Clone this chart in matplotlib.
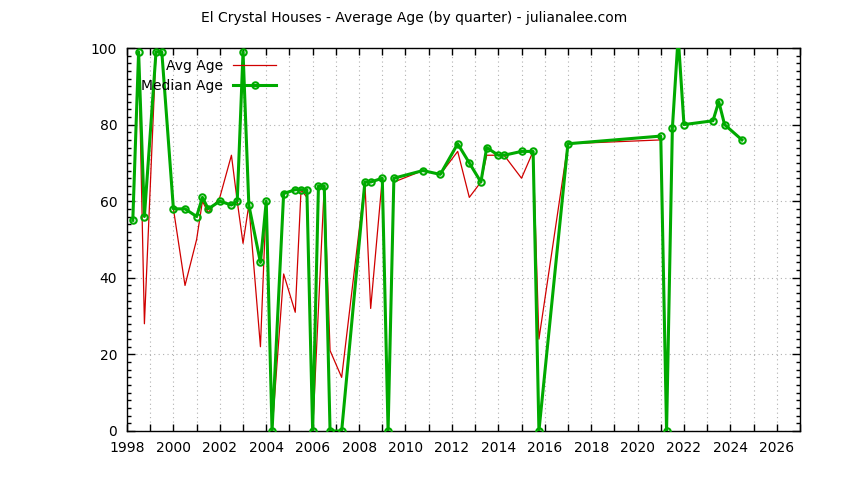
import matplotlib
matplotlib.use("Agg")
import matplotlib.pyplot as plt
from matplotlib.ticker import MultipleLocator, FuncFormatter

plt.rcParams['font.family'] = ['DejaVu Sans']

title = "El Crystal Houses - Average Age (by quarter) - julianalee.com"

quarters = [1998.25, 1998.5, 1998.75, 1999.25, 1999.5, 2000.0, 2000.5, 2001.0,
            2001.25, 2001.5, 2002.0, 2002.5, 2002.75, 2003.0, 2003.25, 2003.75,
            2004.0, 2004.25, 2004.75, 2005.25, 2005.5, 2005.75, 2006.0, 2006.25,
            2006.5, 2006.75, 2007.25, 2008.25, 2008.5, 2009.0, 2009.25, 2009.5,
            2010.75, 2011.5, 2012.25, 2012.75, 2013.25, 2013.5, 2014.0, 2014.25,
            2015.0, 2015.5, 2015.75, 2017.0, 2021.0, 2021.25, 2021.5, 2021.75,
            2022.0, 2023.25, 2023.5, 2023.75, 2024.5]

avg_age = [55, 99, 28, 99, 99, 58, 38, 50,
           60, 57, 61, 72, 60, 49, 59, 22,
           60, 0, 41, 31, 63, 61, 0, 32,
           64, 21, 14, 65, 32, 66, 0, 65,
           68, 67, 73, 61, 65, 72, 72, 72,
           66, 73, 24, 75, 76, 0, 79, 103,
           80, 81, 86, 80, 76]

median_age = [55, 99, 56, 99, 99, 58, 58, 56,
              61, 58, 60, 59, 60, 99, 59, 44,
              60, 0, 62, 63, 63, 63, 0, 64,
              64, 0, 0, 65, 65, 66, 0, 66,
              68, 67, 75, 70, 65, 74, 72, 72,
              73, 73, 0, 75, 77, 0, 79, 103,
              80, 81, 86, 80, 76]

fig = plt.figure(figsize=(8.44, 4.80), dpi=100)
ax = fig.add_axes([127/844, 1-431/480, (800-127)/844, (431-48)/480])

red = '#d00000'
green = '#00aa00'

ax.plot(quarters, avg_age, color=red, lw=0.9, label='Avg Age', zorder=3)
ax.plot(quarters, median_age, color=green, lw=2.2, marker='o', ms=4.6,
        mfc='none', mec=green, mew=1.5, label='Median Age', zorder=4)

ax.set_xlim(1998, 2027)
ax.set_ylim(0, 100)

ax.xaxis.set_major_locator(MultipleLocator(1))
ax.xaxis.set_major_formatter(FuncFormatter(lambda v, p: f"{int(round(v))}" if int(round(v)) % 2 == 0 else ""))
ax.yaxis.set_major_locator(MultipleLocator(20))
ax.yaxis.set_minor_locator(MultipleLocator(2))

ax.tick_params(axis='x', which='major', direction='in', length=5, width=1,
               top=True, bottom=True, labelsize=10, pad=7)
ax.tick_params(axis='y', which='major', direction='in', length=6, width=1,
               left=True, right=True, labelsize=10, pad=7)
ax.tick_params(axis='y', which='minor', direction='in', length=3, width=1,
               left=True, right=True)

ax.grid(True, which='major', color='#b0b0b0', linestyle=(0, (1, 3)), lw=0.8, zorder=1)
ax.set_axisbelow(True)
for s in ax.spines.values():
    s.set_linewidth(1)
    s.set_color('black')

ax.legend(loc='upper left', bbox_to_anchor=(0.005, 1.0), frameon=False,
          markerfirst=False, handlelength=3.1, fontsize=10, numpoints=1,
          labelspacing=0.42, handletextpad=0.7, borderaxespad=0.4)

fig.text(414/844, 1-18/480, title, ha='center', va='center', fontsize=10)

fig.savefig('out.png', dpi=100)
